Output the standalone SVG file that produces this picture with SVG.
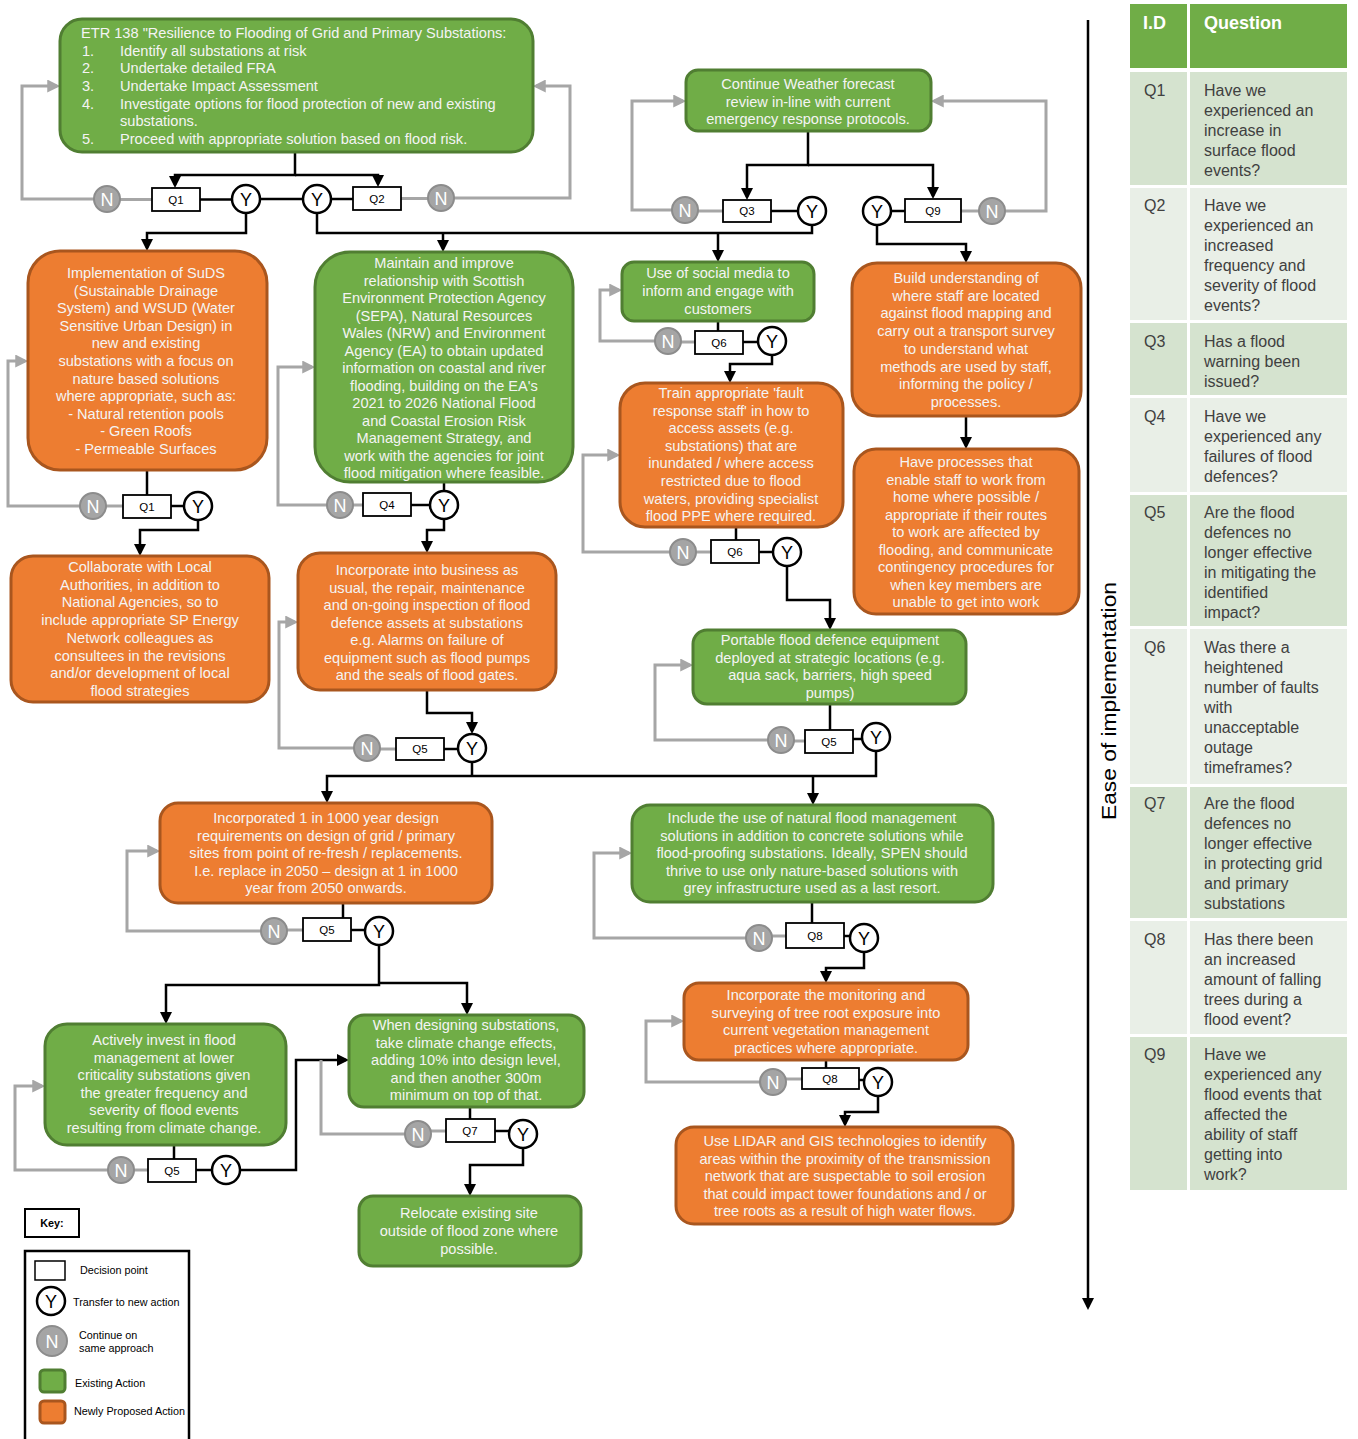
<svg xmlns="http://www.w3.org/2000/svg" width="1358" height="1439" viewBox="0 0 1358 1439">
<style>
  .g { fill:#70AD47; stroke:#507E32; stroke-width:3; }
  .o { fill:#ED7D31; stroke:#A9561E; stroke-width:3; }
  .t { font-family:"Liberation Sans", Arial, sans-serif; font-size:14.6px; fill:#F4F4F4; text-anchor:middle; }
  .tl { font-family:"Liberation Sans", Arial, sans-serif; font-size:14.6px; fill:#F4F4F4; }
  .qb { fill:#fff; stroke:#000; stroke-width:1.8; }
  .qt { font-family:"Liberation Sans", Arial, sans-serif; font-size:11.5px; fill:#000; text-anchor:middle; }
  .yc { fill:#fff; stroke:#000; stroke-width:2.5; }
  .yt { font-family:"Liberation Sans", Arial, sans-serif; font-size:18px; fill:#000; text-anchor:middle; }
  .nc { fill:#A5A5A5; stroke:#8C8C8C; stroke-width:2; }
  .nt { font-family:"Liberation Sans", Arial, sans-serif; font-size:18px; fill:#fff; text-anchor:middle; }
  .cb { fill:none; stroke:#000; stroke-width:2.5; }
  .cg { fill:none; stroke:#A6A6A6; stroke-width:3; }
  .hd { fill:#70AD47; }
  .rd { fill:#D5E3CF; }
  .rl { fill:#E9EFE7; }
  .ht { font-family:"Liberation Sans", Arial, sans-serif; font-size:18px; font-weight:bold; fill:#fff; }
  .tt { font-family:"Liberation Sans", Arial, sans-serif; font-size:16px; fill:#404040; }
  .lt { font-family:"Liberation Sans", Arial, sans-serif; font-size:10.8px; fill:#000; }
</style>
<defs>
  <marker id="ab" viewBox="0 0 10 10" refX="7.5" refY="5" markerWidth="12" markerHeight="12" markerUnits="userSpaceOnUse" orient="auto">
    <path d="M0,0 L10,5 L0,10 z" fill="#000"/>
  </marker>
  <marker id="ag" viewBox="0 0 10 10" refX="7.5" refY="5" markerWidth="13" markerHeight="13" markerUnits="userSpaceOnUse" orient="auto">
    <path d="M0,0 L10,5 L0,10 z" fill="#A6A6A6"/>
  </marker>
</defs>

<rect width="1358" height="1439" fill="#fff"/>

<!-- connectors -->
<g id="connectors">
  <!-- black: yes paths and flow -->
  <path class="cb" d="M295,152 V175 H175 V185" marker-end="url(#ab)"/>
  <path class="cb" d="M295,175 H378 V184" marker-end="url(#ab)"/>
  <path class="cb" d="M200,199.5 H232"/>
  <path class="cb" d="M260,199 H303"/>
  <path class="cb" d="M331,199 H353"/>
  <path class="cb" d="M246,213 V233 H147 V248" marker-end="url(#ab)"/>
  <path class="cb" d="M317,213 V233 H812 V225"/>
  <path class="cb" d="M443,233 V249" marker-end="url(#ab)"/>
  <path class="cb" d="M718,233 V259" marker-end="url(#ab)"/>
  <path class="cb" d="M808,131 V165 H747 V197" marker-end="url(#ab)"/>
  <path class="cb" d="M808,165 H933 V196" marker-end="url(#ab)"/>
  <path class="cb" d="M771,211 H798"/>
  <path class="cb" d="M891,211 H905"/>
  <path class="cb" d="M877,225 V244 H966 V260" marker-end="url(#ab)"/>
  <path class="cb" d="M147,470 V495"/>
  <path class="cb" d="M171,506 H184"/>
  <path class="cb" d="M198,520 V530 H140 V553" marker-end="url(#ab)"/>
  <path class="cb" d="M444,482 V491"/>
  <path class="cb" d="M411,505 H430"/>
  <path class="cb" d="M444,519 V530 H427 V550" marker-end="url(#ab)"/>
  <path class="cb" d="M718,321 V331"/>
  <path class="cb" d="M743,342 H758"/>
  <path class="cb" d="M772,355 V364 H730 V380" marker-end="url(#ab)"/>
  <path class="cb" d="M736,527 V540"/>
  <path class="cb" d="M759,552 H773"/>
  <path class="cb" d="M787,566 V600 H830 V627" marker-end="url(#ab)"/>
  <path class="cb" d="M966,416 V446" marker-end="url(#ab)"/>
  <path class="cb" d="M427,690 V713 H472 V731" marker-end="url(#ab)"/>
  <path class="cb" d="M444,749 H458"/>
  <path class="cb" d="M472,762 V776"/>
  <path class="cb" d="M876,751 V776 H327 V800" marker-end="url(#ab)"/>
  <path class="cb" d="M813,776 V802" marker-end="url(#ab)"/>
  <path class="cb" d="M830,704 V730"/>
  <path class="cb" d="M853,739 H862"/>
  <path class="cb" d="M812,902 V923"/>
  <path class="cb" d="M844,936 H850"/>
  <path class="cb" d="M864,952 V968 H826 V980" marker-end="url(#ab)"/>
  <path class="cb" d="M826,1060 V1068"/>
  <path class="cb" d="M859,1080 H864"/>
  <path class="cb" d="M878,1096 V1112 H845 V1124" marker-end="url(#ab)"/>
  <path class="cb" d="M343,903 V918"/>
  <path class="cb" d="M351,930 H365"/>
  <path class="cb" d="M379,945 V985 H166 V1021" marker-end="url(#ab)"/>
  <path class="cb" d="M379,983 H467 V1012" marker-end="url(#ab)"/>
  <path class="cb" d="M174,1145 V1159"/>
  <path class="cb" d="M196,1170 H212"/>
  <path class="cb" d="M240,1170 H296 V1060 H346" marker-end="url(#ab)"/>
  <path class="cb" d="M470,1107 V1119"/>
  <path class="cb" d="M495,1131 H509"/>
  <path class="cb" d="M523,1148 V1165 H470 V1193" marker-end="url(#ab)"/>
  <!-- grey: no paths looping back -->
  <path class="cg" d="M152,199.5 H120"/>
  <path class="cg" d="M94,199 H22 V86 H57" marker-end="url(#ag)"/>
  <path class="cg" d="M401,198.5 H428"/>
  <path class="cg" d="M454,198 H570 V86 H536" marker-end="url(#ag)"/>
  <path class="cg" d="M723,211 H698"/>
  <path class="cg" d="M672,210 H632 V101 H683" marker-end="url(#ag)"/>
  <path class="cg" d="M961,211 H979"/>
  <path class="cg" d="M1005,211 H1046 V101 H934" marker-end="url(#ag)"/>
  <path class="cg" d="M123,506 H106"/>
  <path class="cg" d="M80,506 H8 V361 H25" marker-end="url(#ag)"/>
  <path class="cg" d="M363,505 H353"/>
  <path class="cg" d="M327,505 H278 V367 H312" marker-end="url(#ag)"/>
  <path class="cg" d="M695,342 H681"/>
  <path class="cg" d="M655,341 H600 V290 H619" marker-end="url(#ag)"/>
  <path class="cg" d="M711,552 H696"/>
  <path class="cg" d="M670,552 H583 V455 H617" marker-end="url(#ag)"/>
  <path class="cg" d="M396,749 H380"/>
  <path class="cg" d="M354,748 H279 V622 H295" marker-end="url(#ag)"/>
  <path class="cg" d="M805,741 H794"/>
  <path class="cg" d="M768,740 H655 V665 H690" marker-end="url(#ag)"/>
  <path class="cg" d="M786,936 H772"/>
  <path class="cg" d="M746,938 H594 V853 H629" marker-end="url(#ag)"/>
  <path class="cg" d="M802,1079 H786"/>
  <path class="cg" d="M760,1082 H646 V1021 H681" marker-end="url(#ag)"/>
  <path class="cg" d="M303,930 H287"/>
  <path class="cg" d="M261,931 H127 V851 H157" marker-end="url(#ag)"/>
  <path class="cg" d="M148,1170 H134"/>
  <path class="cg" d="M108,1170 H15 V1086 H42" marker-end="url(#ag)"/>
  <path class="cg" d="M446,1131 H431"/>
  <path class="cg" d="M405,1134 H321 V1060"/>
  <!-- implementation axis -->
  <path class="cb" d="M1088,20 V1307" marker-end="url(#ab)"/>
</g>

<!-- action nodes -->
<g id="n-etr">
  <rect class="g" x="60" y="19" width="473" height="133" rx="22"/>
  <text class="tl" x="81" y="38">ETR 138 "Resilience to Flooding of Grid and Primary Substations:</text>
  <text class="tl" x="82" y="56">1.</text><text class="tl" x="120" y="56">Identify all substations at risk</text>
  <text class="tl" x="82" y="73">2.</text><text class="tl" x="120" y="73">Undertake detailed FRA</text>
  <text class="tl" x="82" y="91">3.</text><text class="tl" x="120" y="91">Undertake Impact Assessment</text>
  <text class="tl" x="82" y="109">4.</text><text class="tl" x="120" y="109">Investigate options for flood protection of new and existing</text>
  <text class="tl" x="120" y="126">substations.</text>
  <text class="tl" x="82" y="144">5.</text><text class="tl" x="120" y="144">Proceed with appropriate solution based on flood risk.</text>
</g>

<g id="n-weather">
  <rect class="g" x="686" y="70" width="245" height="61" rx="12"/>
  <text class="t" y="89"><tspan x="808">Continue Weather forecast</tspan><tspan x="808" dy="17.5">review in-line with current</tspan><tspan x="808" dy="17.5">emergency response protocols.</tspan></text>
</g>

<g id="n-suds">
  <rect class="o" x="28" y="251" width="239" height="219" rx="32"/>
  <text class="t" y="278"><tspan x="146">Implementation of SuDS</tspan><tspan x="146" dy="17.6">(Sustainable Drainage</tspan><tspan x="146" dy="17.6">System) and WSUD (Water</tspan><tspan x="146" dy="17.6">Sensitive Urban Design) in</tspan><tspan x="146" dy="17.6">new and existing</tspan><tspan x="146" dy="17.6">substations with a focus on</tspan><tspan x="146" dy="17.6">nature based solutions</tspan><tspan x="146" dy="17.6">where appropriate, such as:</tspan><tspan x="146" dy="17.6">- Natural retention pools</tspan><tspan x="146" dy="17.6">- Green Roofs</tspan><tspan x="146" dy="17.6">- Permeable Surfaces</tspan></text>
</g>

<g id="n-agencies">
  <rect class="g" x="315" y="252" width="258" height="230" rx="35"/>
  <text class="t" y="268"><tspan x="444">Maintain  and improve</tspan><tspan x="444" dy="17.5">relationship with Scottish</tspan><tspan x="444" dy="17.5">Environment Protection Agency</tspan><tspan x="444" dy="17.5">(SEPA), Natural Resources</tspan><tspan x="444" dy="17.5">Wales (NRW) and Environment</tspan><tspan x="444" dy="17.5">Agency (EA) to obtain updated</tspan><tspan x="444" dy="17.5">information on coastal and river</tspan><tspan x="444" dy="17.5">flooding, building on the EA's</tspan><tspan x="444" dy="17.5">2021 to 2026 National Flood</tspan><tspan x="444" dy="17.5">and Coastal Erosion Risk</tspan><tspan x="444" dy="17.5">Management Strategy, and</tspan><tspan x="444" dy="17.5">work with the agencies for joint</tspan><tspan x="444" dy="17.5">flood mitigation where feasible.</tspan></text>
</g>

<g id="n-social">
  <rect class="g" x="622" y="262" width="192" height="59" rx="12"/>
  <text class="t" y="278"><tspan x="718">Use of social media to</tspan><tspan x="718" dy="18">inform and engage with</tspan><tspan x="718" dy="18">customers</tspan></text>
</g>

<g id="n-train">
  <rect class="o" x="620" y="383" width="223" height="144" rx="25"/>
  <text class="t" y="398"><tspan x="731">Train appropriate 'fault</tspan><tspan x="731" dy="17.6">response staff' in how to</tspan><tspan x="731" dy="17.6">access assets (e.g.</tspan><tspan x="731" dy="17.6">substations) that are</tspan><tspan x="731" dy="17.6">inundated / where access</tspan><tspan x="731" dy="17.6">restricted due to flood</tspan><tspan x="731" dy="17.6">waters, providing specialist</tspan><tspan x="731" dy="17.6">flood PPE where required.</tspan></text>
</g>

<g id="n-staff-location">
  <rect class="o" x="852" y="263" width="229" height="153" rx="25"/>
  <text class="t" y="283"><tspan x="966">Build understanding of</tspan><tspan x="966" dy="17.7">where staff are located</tspan><tspan x="966" dy="17.7">against flood mapping and</tspan><tspan x="966" dy="17.7">carry out a transport survey</tspan><tspan x="966" dy="17.7">to understand what</tspan><tspan x="966" dy="17.7">methods are used by staff,</tspan><tspan x="966" dy="17.7">informing the policy /</tspan><tspan x="966" dy="17.7">processes.</tspan></text>
</g>

<g id="n-home-working">
  <rect class="o" x="854" y="449" width="225" height="165" rx="22"/>
  <text class="t" y="467"><tspan x="966">Have processes that</tspan><tspan x="966" dy="17.5">enable staff to work from</tspan><tspan x="966" dy="17.5">home where possible /</tspan><tspan x="966" dy="17.5">appropriate if their routes</tspan><tspan x="966" dy="17.5">to work are affected by</tspan><tspan x="966" dy="17.5">flooding, and communicate</tspan><tspan x="966" dy="17.5">contingency procedures for</tspan><tspan x="966" dy="17.5">when key members are</tspan><tspan x="966" dy="17.5">unable to get into work</tspan></text>
</g>

<g id="n-collaborate">
  <rect class="o" x="11" y="556" width="258" height="146" rx="22"/>
  <text class="t" y="572"><tspan x="140">Collaborate with Local</tspan><tspan x="140" dy="17.7">Authorities, in addition to</tspan><tspan x="140" dy="17.7">National Agencies,  so to</tspan><tspan x="140" dy="17.7">include appropriate SP Energy</tspan><tspan x="140" dy="17.7">Network colleagues as</tspan><tspan x="140" dy="17.7">consultees in the revisions</tspan><tspan x="140" dy="17.7">and/or development of local</tspan><tspan x="140" dy="17.7">flood strategies</tspan></text>
</g>

<g id="n-bau">
  <rect class="o" x="298" y="553" width="258" height="137" rx="22"/>
  <text class="t" y="575"><tspan x="427">Incorporate into business as</tspan><tspan x="427" dy="17.5">usual, the repair, maintenance</tspan><tspan x="427" dy="17.5">and on-going inspection of flood</tspan><tspan x="427" dy="17.5">defence assets at substations</tspan><tspan x="427" dy="17.5">e.g. Alarms on failure of</tspan><tspan x="427" dy="17.5">equipment such as flood pumps</tspan><tspan x="427" dy="17.5">and the seals of flood gates.</tspan></text>
</g>

<g id="n-portable">
  <rect class="g" x="693" y="630" width="273" height="74" rx="14"/>
  <text class="t" y="645"><tspan x="830">Portable flood defence equipment</tspan><tspan x="830" dy="17.7">deployed at strategic locations (e.g.</tspan><tspan x="830" dy="17.7">aqua sack, barriers, high speed</tspan><tspan x="830" dy="17.7">pumps)</tspan></text>
</g>

<g id="n-1in1000">
  <rect class="o" x="160" y="803" width="332" height="100" rx="18"/>
  <text class="t" y="823"><tspan x="326">Incorporated 1 in 1000 year design</tspan><tspan x="326" dy="17.5">requirements on design of grid / primary</tspan><tspan x="326" dy="17.5">sites from point of re-fresh / replacements.</tspan><tspan x="326" dy="17.5">I.e. replace in 2050 – design at 1 in 1000</tspan><tspan x="326" dy="17.5">year from 2050 onwards.</tspan></text>
</g>

<g id="n-nfm">
  <rect class="g" x="632" y="805" width="361" height="97" rx="18"/>
  <text class="t" y="823"><tspan x="812">Include the use of natural flood management</tspan><tspan x="812" dy="17.5">solutions in addition to concrete solutions while</tspan><tspan x="812" dy="17.5">flood-proofing substations. Ideally,  SPEN should</tspan><tspan x="812" dy="17.5">thrive to use only nature-based solutions with</tspan><tspan x="812" dy="17.5">grey infrastructure used as a last resort.</tspan></text>
</g>

<g id="n-tree-roots">
  <rect class="o" x="684" y="983" width="284" height="77" rx="15"/>
  <text class="t" y="1000"><tspan x="826">Incorporate the monitoring and</tspan><tspan x="826" dy="17.7">surveying of tree root exposure into</tspan><tspan x="826" dy="17.7">current vegetation management</tspan><tspan x="826" dy="17.7">practices where appropriate.</tspan></text>
</g>

<g id="n-lidar">
  <rect class="o" x="676" y="1127" width="337" height="97" rx="18"/>
  <text class="t" y="1146"><tspan x="845">Use LIDAR and GIS technologies to identify</tspan><tspan x="845" dy="17.5">areas within the proximity of the transmission</tspan><tspan x="845" dy="17.5">network that are suspectable to soil erosion</tspan><tspan x="845" dy="17.5">that could impact tower foundations and / or</tspan><tspan x="845" dy="17.5">tree roots as a result of high water flows.</tspan></text>
</g>

<g id="n-invest">
  <rect class="g" x="45" y="1024" width="241" height="121" rx="22"/>
  <text class="t" y="1045"><tspan x="164">Actively invest in flood</tspan><tspan x="164" dy="17.6">management at lower</tspan><tspan x="164" dy="17.6">criticality substations given</tspan><tspan x="164" dy="17.6">the greater frequency and</tspan><tspan x="164" dy="17.6">severity of flood events</tspan><tspan x="164" dy="17.6">resulting from climate change.</tspan></text>
</g>

<g id="n-design-margin">
  <rect class="g" x="349" y="1015" width="235" height="92" rx="15"/>
  <text class="t" y="1030"><tspan x="466">When designing substations,</tspan><tspan x="466" dy="17.5">take climate change effects,</tspan><tspan x="466" dy="17.5">adding 10% into design level,</tspan><tspan x="466" dy="17.5">and then another 300m</tspan><tspan x="466" dy="17.5">minimum on top of that.</tspan></text>
</g>

<g id="n-relocate">
  <rect class="g" x="359" y="1196" width="222" height="70" rx="14"/>
  <text class="t" y="1218"><tspan x="469">Relocate existing site</tspan><tspan x="469" dy="18">outside of flood zone where</tspan><tspan x="469" dy="18">possible.</tspan></text>
</g>

<!-- decision points -->
<g id="dp-q1-top">
  <rect class="qb" x="152" y="188" width="48" height="23"/><text class="qt" x="176" y="203.5">Q1</text>
  <circle class="yc" cx="246" cy="199" r="14"/><text class="yt" x="246" y="205.5">Y</text>
  <circle class="nc" cx="107" cy="199" r="13"/><text class="nt" x="107" y="205.5">N</text>
</g>
<g id="dp-q2-top">
  <rect class="qb" x="353" y="187" width="48" height="23"/><text class="qt" x="377" y="202.5">Q2</text>
  <circle class="yc" cx="317" cy="199" r="14"/><text class="yt" x="317" y="205.5">Y</text>
  <circle class="nc" cx="441" cy="198" r="13"/><text class="nt" x="441" y="204.5">N</text>
</g>
<g id="dp-q3">
  <rect class="qb" x="723" y="200" width="48" height="22"/><text class="qt" x="747" y="215">Q3</text>
  <circle class="yc" cx="812" cy="211" r="14"/><text class="yt" x="812" y="217.5">Y</text>
  <circle class="nc" cx="685" cy="210" r="13"/><text class="nt" x="685" y="216.5">N</text>
</g>
<g id="dp-q9">
  <rect class="qb" x="905" y="199" width="56" height="23"/><text class="qt" x="933" y="214.5">Q9</text>
  <circle class="yc" cx="877" cy="211" r="14"/><text class="yt" x="877" y="217.5">Y</text>
  <circle class="nc" cx="992" cy="211" r="13"/><text class="nt" x="992" y="217.5">N</text>
</g>
<g id="dp-q1-suds">
  <rect class="qb" x="123" y="495" width="48" height="23"/><text class="qt" x="147" y="510.5">Q1</text>
  <circle class="yc" cx="198" cy="506" r="14"/><text class="yt" x="198" y="512.5">Y</text>
  <circle class="nc" cx="93" cy="506" r="13"/><text class="nt" x="93" y="512.5">N</text>
</g>
<g id="dp-q4">
  <rect class="qb" x="363" y="493" width="48" height="23"/><text class="qt" x="387" y="508.5">Q4</text>
  <circle class="yc" cx="444" cy="505" r="14"/><text class="yt" x="444" y="511.5">Y</text>
  <circle class="nc" cx="340" cy="505" r="13"/><text class="nt" x="340" y="511.5">N</text>
</g>
<g id="dp-q6-social">
  <rect class="qb" x="695" y="331" width="48" height="23"/><text class="qt" x="719" y="346.5">Q6</text>
  <circle class="yc" cx="772" cy="341" r="14"/><text class="yt" x="772" y="347.5">Y</text>
  <circle class="nc" cx="668" cy="341" r="13"/><text class="nt" x="668" y="347.5">N</text>
</g>
<g id="dp-q6-train">
  <rect class="qb" x="711" y="540" width="48" height="23"/><text class="qt" x="735" y="555.5">Q6</text>
  <circle class="yc" cx="787" cy="552" r="14"/><text class="yt" x="787" y="558.5">Y</text>
  <circle class="nc" cx="683" cy="552" r="13"/><text class="nt" x="683" y="558.5">N</text>
</g>
<g id="dp-q5-bau">
  <rect class="qb" x="396" y="738" width="48" height="22"/><text class="qt" x="420" y="753">Q5</text>
  <circle class="yc" cx="472" cy="748" r="14"/><text class="yt" x="472" y="754.5">Y</text>
  <circle class="nc" cx="367" cy="748" r="13"/><text class="nt" x="367" y="754.5">N</text>
</g>
<g id="dp-q5-portable">
  <rect class="qb" x="805" y="730" width="48" height="23"/><text class="qt" x="829" y="745.5">Q5</text>
  <circle class="yc" cx="876" cy="737" r="14"/><text class="yt" x="876" y="743.5">Y</text>
  <circle class="nc" cx="781" cy="740" r="13"/><text class="nt" x="781" y="746.5">N</text>
</g>
<g id="dp-q8-nfm">
  <rect class="qb" x="786" y="923" width="58" height="25"/><text class="qt" x="815" y="939.5">Q8</text>
  <circle class="yc" cx="864" cy="938" r="14"/><text class="yt" x="864" y="944.5">Y</text>
  <circle class="nc" cx="759" cy="938" r="13"/><text class="nt" x="759" y="944.5">N</text>
</g>
<g id="dp-q8-roots">
  <rect class="qb" x="802" y="1068" width="57" height="21"/><text class="qt" x="830" y="1082.5">Q8</text>
  <circle class="yc" cx="878" cy="1082" r="14"/><text class="yt" x="878" y="1088.5">Y</text>
  <circle class="nc" cx="773" cy="1082" r="13"/><text class="nt" x="773" y="1088.5">N</text>
</g>
<g id="dp-q5-1in1000">
  <rect class="qb" x="303" y="918" width="48" height="23"/><text class="qt" x="327" y="933.5">Q5</text>
  <circle class="yc" cx="379" cy="931" r="14"/><text class="yt" x="379" y="937.5">Y</text>
  <circle class="nc" cx="274" cy="931" r="13"/><text class="nt" x="274" y="937.5">N</text>
</g>
<g id="dp-q5-invest">
  <rect class="qb" x="148" y="1159" width="48" height="23"/><text class="qt" x="172" y="1174.5">Q5</text>
  <circle class="yc" cx="226" cy="1170" r="14"/><text class="yt" x="226" y="1176.5">Y</text>
  <circle class="nc" cx="121" cy="1170" r="13"/><text class="nt" x="121" y="1176.5">N</text>
</g>
<g id="dp-q7">
  <rect class="qb" x="446" y="1119" width="49" height="23"/><text class="qt" x="470" y="1134.5">Q7</text>
  <circle class="yc" cx="523" cy="1134" r="14"/><text class="yt" x="523" y="1140.5">Y</text>
  <circle class="nc" cx="418" cy="1134" r="13"/><text class="nt" x="418" y="1140.5">N</text>
</g>

<!-- axis label -->
<g id="axis-label">
  <text transform="translate(1116,701) rotate(-90)" font-family="'Liberation Sans', Arial, sans-serif" font-size="21" fill="#000" text-anchor="middle" textLength="238" lengthAdjust="spacingAndGlyphs">Ease of implementation</text>
</g>

<!-- question table -->
<g id="question-table">
  <rect class="hd" x="1130" y="4" width="57" height="64"/>
  <rect class="hd" x="1190" y="4" width="157" height="64"/>
  <text class="ht" x="1143" y="29">I.D</text>
  <text class="ht" x="1204" y="29">Question</text>

  <rect class="rd" x="1130" y="72" width="57" height="113"/><rect class="rd" x="1190" y="72" width="157" height="113"/>
  <text class="tt" x="1144" y="96">Q1</text>
  <text class="tt" y="96"><tspan x="1204">Have  we</tspan><tspan x="1204" dy="20">experienced an</tspan><tspan x="1204" dy="20">increase in</tspan><tspan x="1204" dy="20">surface flood</tspan><tspan x="1204" dy="20">events?</tspan></text>

  <rect class="rl" x="1130" y="188" width="57" height="132"/><rect class="rl" x="1190" y="188" width="157" height="132"/>
  <text class="tt" x="1144" y="211">Q2</text>
  <text class="tt" y="211"><tspan x="1204">Have  we</tspan><tspan x="1204" dy="20">experienced an</tspan><tspan x="1204" dy="20">increased</tspan><tspan x="1204" dy="20">frequency and</tspan><tspan x="1204" dy="20">severity of flood</tspan><tspan x="1204" dy="20">events?</tspan></text>

  <rect class="rd" x="1130" y="323" width="57" height="72"/><rect class="rd" x="1190" y="323" width="157" height="72"/>
  <text class="tt" x="1144" y="347">Q3</text>
  <text class="tt" y="347"><tspan x="1204">Has a flood</tspan><tspan x="1204" dy="20">warning been</tspan><tspan x="1204" dy="20">issued?</tspan></text>

  <rect class="rl" x="1130" y="398" width="57" height="94"/><rect class="rl" x="1190" y="398" width="157" height="94"/>
  <text class="tt" x="1144" y="422">Q4</text>
  <text class="tt" y="422"><tspan x="1204">Have  we</tspan><tspan x="1204" dy="20">experienced any</tspan><tspan x="1204" dy="20">failures of flood</tspan><tspan x="1204" dy="20">defences?</tspan></text>

  <rect class="rd" x="1130" y="495" width="57" height="131"/><rect class="rd" x="1190" y="495" width="157" height="131"/>
  <text class="tt" x="1144" y="518">Q5</text>
  <text class="tt" y="518"><tspan x="1204">Are the flood</tspan><tspan x="1204" dy="20">defences no</tspan><tspan x="1204" dy="20">longer effective</tspan><tspan x="1204" dy="20">in mitigating the</tspan><tspan x="1204" dy="20">identified</tspan><tspan x="1204" dy="20">impact?</tspan></text>

  <rect class="rl" x="1130" y="629" width="57" height="155"/><rect class="rl" x="1190" y="629" width="157" height="155"/>
  <text class="tt" x="1144" y="653">Q6</text>
  <text class="tt" y="653"><tspan x="1204">Was there a</tspan><tspan x="1204" dy="20">heightened</tspan><tspan x="1204" dy="20">number of faults</tspan><tspan x="1204" dy="20">with</tspan><tspan x="1204" dy="20">unacceptable</tspan><tspan x="1204" dy="20">outage</tspan><tspan x="1204" dy="20">timeframes?</tspan></text>

  <rect class="rd" x="1130" y="787" width="57" height="131"/><rect class="rd" x="1190" y="787" width="157" height="131"/>
  <text class="tt" x="1144" y="809">Q7</text>
  <text class="tt" y="809"><tspan x="1204">Are the flood</tspan><tspan x="1204" dy="20">defences no</tspan><tspan x="1204" dy="20">longer effective</tspan><tspan x="1204" dy="20">in protecting grid</tspan><tspan x="1204" dy="20">and primary</tspan><tspan x="1204" dy="20">substations</tspan></text>

  <rect class="rl" x="1130" y="921" width="57" height="113"/><rect class="rl" x="1190" y="921" width="157" height="113"/>
  <text class="tt" x="1144" y="945">Q8</text>
  <text class="tt" y="945"><tspan x="1204">Has there been</tspan><tspan x="1204" dy="20">an increased</tspan><tspan x="1204" dy="20">amount of falling</tspan><tspan x="1204" dy="20">trees during a</tspan><tspan x="1204" dy="20">flood event?</tspan></text>

  <rect class="rd" x="1130" y="1037" width="57" height="153"/><rect class="rd" x="1190" y="1037" width="157" height="153"/>
  <text class="tt" x="1144" y="1060">Q9</text>
  <text class="tt" y="1060"><tspan x="1204">Have  we</tspan><tspan x="1204" dy="20">experienced any</tspan><tspan x="1204" dy="20">flood events that</tspan><tspan x="1204" dy="20">affected the</tspan><tspan x="1204" dy="20">ability of staff</tspan><tspan x="1204" dy="20">getting into</tspan><tspan x="1204" dy="20">work?</tspan></text>
</g>

<!-- key -->
<g id="key">
  <rect x="25" y="1209" width="54" height="28" fill="#fff" stroke="#000" stroke-width="2"/>
  <text class="lt" x="52" y="1227" text-anchor="middle" font-weight="bold">Key:</text>
  <rect x="25" y="1251" width="164" height="200" fill="#fff" stroke="#000" stroke-width="2.5"/>
  <rect x="35" y="1261" width="30" height="19" fill="#fff" stroke="#000" stroke-width="1.5"/>
  <text class="lt" x="80" y="1274">Decision point</text>
  <circle class="yc" cx="51" cy="1301" r="14"/><text class="yt" x="51" y="1307.5">Y</text>
  <text class="lt" x="73" y="1306">Transfer to new action</text>
  <circle class="nc" cx="52" cy="1341" r="15"/><text class="nt" x="52" y="1347.5">N</text>
  <text class="lt" x="79" y="1339">Continue on</text>
  <text class="lt" x="79" y="1352">same approach</text>
  <rect class="g" x="40" y="1370" width="25" height="22" rx="4" stroke-width="2"/>
  <text class="lt" x="75" y="1387">Existing Action</text>
  <rect class="o" x="40" y="1401" width="25" height="22" rx="4" stroke-width="2"/>
  <text class="lt" x="74" y="1415">Newly Proposed Action</text>
</g>
</svg>
